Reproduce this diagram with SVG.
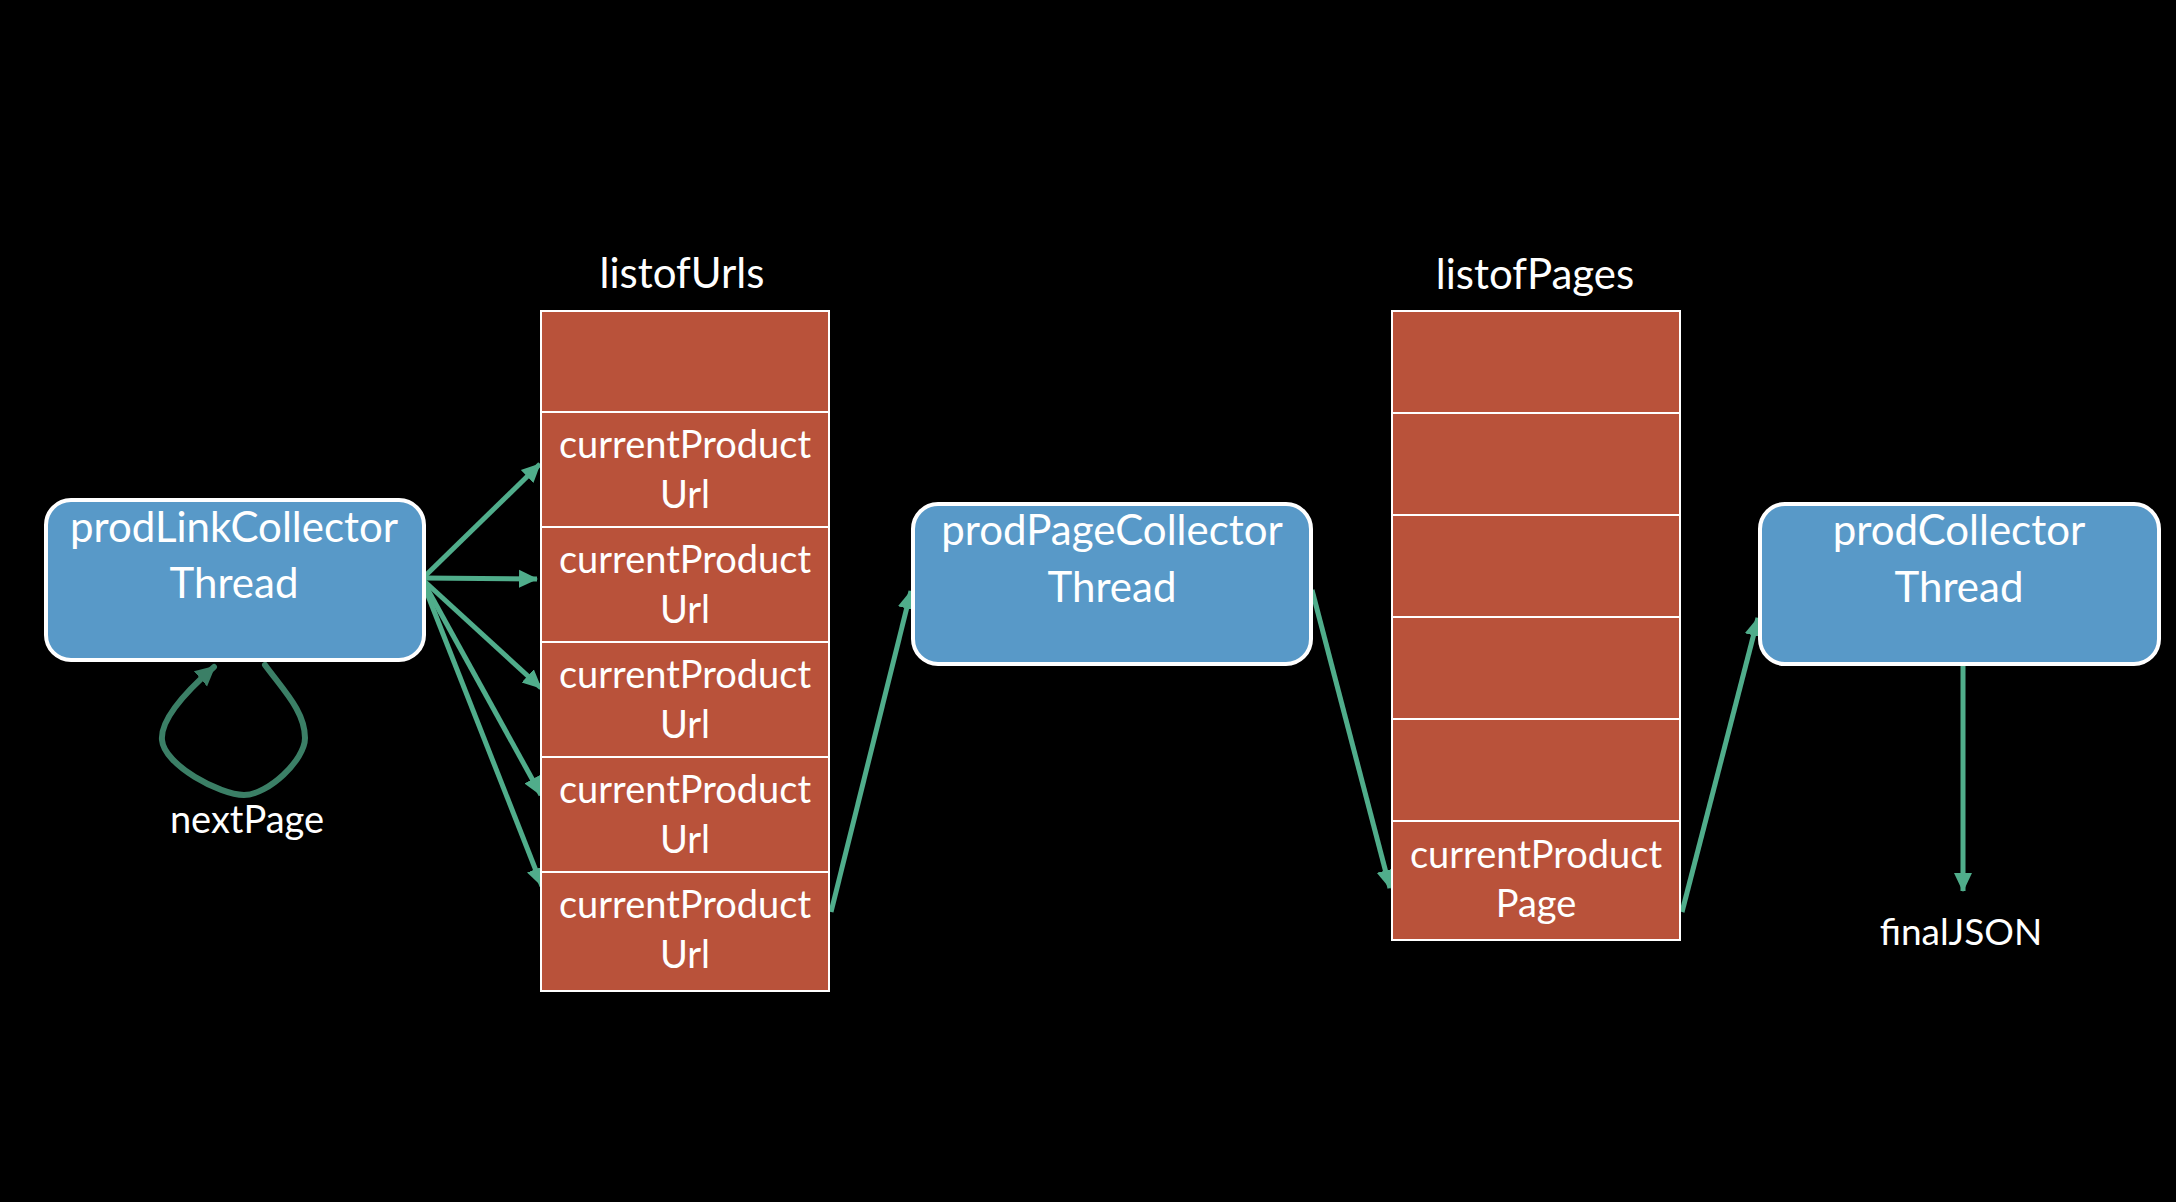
<svg xmlns="http://www.w3.org/2000/svg" width="2176" height="1202" viewBox="0 0 2176 1202">
  <style>
    .thread { fill: #5899C8; stroke: #FFFFFF; stroke-width: 4; }
    .cell { fill: #B9523A; stroke: #FFFFFF; stroke-width: 2; }
    .lbl { font-family: Lato, "Open Sans", "Liberation Sans", sans-serif; fill: #FFFFFF; text-anchor: middle; }
    .big { font-size: 42px; }
    .small { font-size: 38px; }
    .flow { fill: none; stroke: #50AD8B; stroke-width: 5; marker-end: url(#head); }
    .loop { fill: none; stroke: #3B7F66; stroke-width: 6; stroke-linecap: round; stroke-linejoin: round; marker-end: url(#loopHead); }
  </style>
  <defs>
    <marker id="head" markerUnits="userSpaceOnUse" markerWidth="20" markerHeight="20" viewBox="0 0 20 20" refX="18" refY="10" orient="auto">
      <path d="M0,1 L19,10 L0,19 Z" fill="#50AD8B"/>
    </marker>
    <marker id="loopHead" markerUnits="userSpaceOnUse" markerWidth="22" markerHeight="22" viewBox="0 0 22 22" refX="18" refY="11" orient="auto">
      <path d="M0,1 L20,11 L0,21 Z" fill="#3B7F66"/>
    </marker>
  </defs>

  <rect width="2176" height="1202" fill="#000000"/>

  <!-- connectors -->
  <g id="connectors">
    <line class="flow" x1="423" y1="578" x2="540" y2="464"/>
    <line class="flow" x1="423" y1="578" x2="537" y2="579"/>
    <line class="flow" x1="423" y1="580" x2="541" y2="688"/>
    <line class="flow" x1="423" y1="581" x2="541" y2="795"/>
    <line class="flow" x1="423" y1="583" x2="542" y2="886"/>
    <line class="flow" x1="831" y1="912" x2="911" y2="591"/>
    <line class="flow" x1="1312" y1="590" x2="1390" y2="888"/>
    <line class="flow" x1="1682" y1="912" x2="1758" y2="618"/>
    <line class="flow" x1="1963" y1="665" x2="1963" y2="891"/>
    <path class="loop" d="M265,665 C285,692 305,712 305,738 C305,760 268,795 244,795 C220,795 164,765 162,740 C160,718 190,688 214,667"/>
  </g>

  <!-- producer thread -->
  <g id="prodLinkCollector">
    <rect class="thread" x="46" y="500" width="378" height="160" rx="25" ry="25"/>
    <text class="lbl big" x="234" y="542">prodLinkCollector</text>
    <text class="lbl big" x="234" y="598">Thread</text>
  </g>
  <text id="nextPage" class="lbl small" x="247" y="833">nextPage</text>

  <!-- url queue -->
  <g id="listofUrls">
    <text class="lbl big" x="682" y="288">listofUrls</text>
    <rect class="cell" x="541" y="311" width="288" height="101"/>
    <rect class="cell" x="541" y="412" width="288" height="115"/>
    <rect class="cell" x="541" y="527" width="288" height="115"/>
    <rect class="cell" x="541" y="642" width="288" height="115"/>
    <rect class="cell" x="541" y="757" width="288" height="115"/>
    <rect class="cell" x="541" y="872" width="288" height="119"/>
    <text class="lbl small" x="685" y="458">currentProduct</text>
    <text class="lbl small" x="685" y="508">Url</text>
    <text class="lbl small" x="685" y="573">currentProduct</text>
    <text class="lbl small" x="685" y="623">Url</text>
    <text class="lbl small" x="685" y="688">currentProduct</text>
    <text class="lbl small" x="685" y="738">Url</text>
    <text class="lbl small" x="685" y="803">currentProduct</text>
    <text class="lbl small" x="685" y="853">Url</text>
    <text class="lbl small" x="685" y="918">currentProduct</text>
    <text class="lbl small" x="685" y="968">Url</text>
  </g>

  <!-- page fetcher thread -->
  <g id="prodPageCollector">
    <rect class="thread" x="913" y="504" width="398" height="160" rx="25" ry="25"/>
    <text class="lbl big" x="1112" y="545">prodPageCollector</text>
    <text class="lbl big" x="1112" y="602">Thread</text>
  </g>

  <!-- page queue -->
  <g id="listofPages">
    <text class="lbl big" x="1535" y="289">listofPages</text>
    <rect class="cell" x="1392" y="311" width="288" height="102"/>
    <rect class="cell" x="1392" y="413" width="288" height="102"/>
    <rect class="cell" x="1392" y="515" width="288" height="102"/>
    <rect class="cell" x="1392" y="617" width="288" height="102"/>
    <rect class="cell" x="1392" y="719" width="288" height="102"/>
    <rect class="cell" x="1392" y="821" width="288" height="119"/>
    <text class="lbl small" x="1536" y="868">currentProduct</text>
    <text class="lbl small" x="1536" y="917">Page</text>
  </g>

  <!-- product parser thread -->
  <g id="prodCollector">
    <rect class="thread" x="1760" y="504" width="399" height="160" rx="25" ry="25"/>
    <text class="lbl big" x="1959" y="545">prodCollector</text>
    <text class="lbl big" x="1959" y="602">Thread</text>
  </g>
  <text id="finalJSON" class="lbl small" x="1961" y="945" style="font-size:37px">finalJSON</text>
</svg>
